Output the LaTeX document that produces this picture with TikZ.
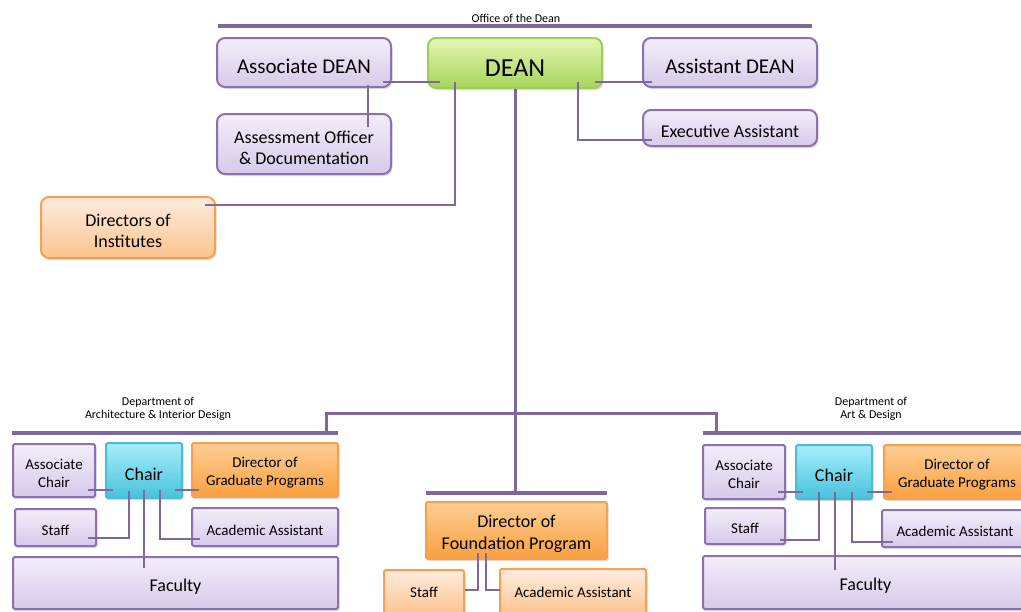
\documentclass[tikz,border=0pt]{standalone}
\usepackage{fontspec}
\setmainfont{Carlito}
\usetikzlibrary{shadows,calc}
\definecolor{lnc}{RGB}{127,104,155}
\definecolor{pbd}{RGB}{139,112,178}
\definecolor{ptop}{RGB}{243,238,250}
\definecolor{pbot}{RGB}{214,202,234}
\definecolor{gbd}{RGB}{160,204,92}
\definecolor{gtop}{RGB}{228,248,178}
\definecolor{gbot}{RGB}{166,212,90}
\definecolor{obd}{RGB}{247,160,80}
\definecolor{otop}{RGB}{253,206,150}
\definecolor{obot}{RGB}{249,160,62}
\definecolor{lotop}{RGB}{254,236,222}
\definecolor{lobot}{RGB}{251,196,142}
\definecolor{cbd}{RGB}{80,186,210}
\definecolor{ctop}{RGB}{166,238,252}
\definecolor{cbot}{RGB}{72,194,220}
\newcommand{\dn}[1]{\raisebox{-0.19em}[\height][\depth]{#1}}
\begin{document}
\begin{tikzpicture}[x=1pt,y=-1pt,
  box/.style={draw, line width=2pt, inner sep=0pt, align=center, text=black,
    drop shadow={opacity=0.25, shadow xshift=1.5pt, shadow yshift=-2pt}},
  topp/.style={box, draw=pbd, top color=ptop, bottom color=pbot, rounded corners=8pt},
  topg/.style={box, draw=gbd, top color=gtop, bottom color=gbot, rounded corners=8pt},
  topo/.style={box, draw=obd, top color=lotop, bottom color=lobot, rounded corners=8pt},
  dp/.style={box, draw=pbd, top color=ptop, bottom color=pbot, rounded corners=1.5pt},
  dc/.style={box, draw=cbd, top color=ctop, bottom color=cbot, rounded corners=1.5pt},
  dor/.style={box, draw=obd, top color=otop, bottom color=obot, rounded corners=1.5pt},
  dlo/.style={box, draw=obd, top color=lotop, bottom color=lobot, rounded corners=1.5pt},
  conn/.style={draw=lnc, line width=2.2pt},
  bar/.style={draw=lnc, line width=4pt},
  trunk/.style={draw=lnc, line width=3pt},
  lbl/.style={font=\fontsize{12}{13}\selectfont, align=center, inner sep=0pt}
]
\useasboundingbox (0,0) rectangle (1021,611);

% ---- Office of the Dean
\node[lbl] (office) at (516,18) {Office of the Dean};
\coordinate (obarL) at (218,26);
\coordinate (obarR) at (812,26);
\draw[bar] (obarL) -- (obarR);

\node[topp, minimum width=174pt, minimum height=49pt, font=\fontsize{21}{24}\selectfont] (ad) at (304,62.5) {\dn{Associate DEAN}};
\node[topg, minimum width=174pt, minimum height=50pt, font=\fontsize{26}{30}\selectfont] (dean) at (515,63) {\dn{DEAN}};
\node[topp, minimum width=174pt, minimum height=49pt, font=\fontsize{21}{24}\selectfont] (asd) at (730,62.5) {\dn{Assistant DEAN}};
\node[topp, minimum width=174pt, minimum height=60pt, font=\fontsize{18}{21}\selectfont] (ao) at (304,144) {\dn{Assessment Officer}\\\dn{\& Documentation}};
\node[topp, minimum width=174pt, minimum height=36pt, font=\fontsize{18}{21}\selectfont] (ea) at (730,128) {\dn{Executive Assistant}};
\node[topo, minimum width=174pt, minimum height=61pt, font=\fontsize{18}{21.5}\selectfont] (di) at (128,227.5) {\dn{Directors of}\\\dn{Institutes}};

% ---- Left department
\node[lbl] (ldept) at (158,408.5) {Department of\\Architecture \& Interior Design};
\coordinate (lbarL) at (12,433);
\coordinate (lbarR) at (338,433);
\coordinate (lbarT) at (326,433);
\node[dp, minimum width=82pt, minimum height=53pt, font=\fontsize{15}{18}\selectfont] (lac) at (54,470.5) {\dn{Associate}\\\dn{Chair}};
\node[dc, minimum width=76pt, minimum height=55pt, font=\fontsize{18}{21}\selectfont] (lch) at (144,470.5) {\dn{Chair}};
\node[dor, minimum width=146pt, minimum height=54pt, font=\fontsize{15}{18}\selectfont] (ldg) at (265,470) {\dn{Director of}\\\dn{Graduate Programs}};
\node[dp, minimum width=81pt, minimum height=37pt, font=\fontsize{15}{18}\selectfont] (lst) at (55.5,527.5) {\dn{Staff}};
\node[dp, minimum width=146pt, minimum height=38pt, font=\fontsize{15}{18}\selectfont] (laa) at (265,527) {\dn{Academic Assistant}};
\node[dp, minimum width=325pt, minimum height=52pt, font=\fontsize{18}{21}\selectfont] (lfa) at (175.5,583) {\dn{Faculty}};

% ---- Right department
\node[lbl] (rdept) at (871,408.5) {Department of\\Art \& Design};
\coordinate (rbarL) at (703,433);
\coordinate (rbarR) at (1024,433);
\coordinate (rbarT) at (716,433);
\node[dp, minimum width=82pt, minimum height=54pt, font=\fontsize{15}{18}\selectfont] (rac) at (744,472) {\dn{Associate}\\\dn{Chair}};
\node[dc, minimum width=76pt, minimum height=54pt, font=\fontsize{18}{21}\selectfont] (rch) at (834,472) {\dn{Chair}};
\node[dor, minimum width=146pt, minimum height=54pt, font=\fontsize{15}{18}\selectfont] (rdg) at (957,472) {\dn{Director of}\\\dn{Graduate Programs}};
\node[dp, minimum width=80pt, minimum height=36pt, font=\fontsize{15}{18}\selectfont] (rst) at (745,526) {\dn{Staff}};
\node[dp, minimum width=146pt, minimum height=37pt, font=\fontsize{15}{18}\selectfont] (raa) at (955,528.5) {\dn{Academic Assistant}};
\node[dp, minimum width=325pt, minimum height=53pt, font=\fontsize{18}{21}\selectfont] (rfa) at (865.5,582.5) {\dn{Faculty}};

% ---- Foundation
\coordinate (fbarL) at (426,493);
\coordinate (fbarR) at (607,493);
\coordinate (fbarT) at (515,493);
\node[dor, minimum width=181pt, minimum height=57pt, font=\fontsize{18}{21.5}\selectfont] (fd) at (516.5,530.5) {\dn{Director of}\\\dn{Foundation Program}};
\node[dlo, minimum width=80pt, minimum height=45pt, font=\fontsize{15}{18}\selectfont] (fst) at (424,592.5) {Staff};
\node[dlo, minimum width=146pt, minimum height=46pt, font=\fontsize{15}{18}\selectfont] (faa) at (573,592) {Academic Assistant};

% ---- bars and trunk
\draw[bar] (lbarL) -- (lbarR);
\draw[bar] (rbarL) -- (rbarR);
\draw[bar] (fbarL) -- (fbarR);
\coordinate (hub) at (515,413);
\draw[trunk] (dean.south) -- (fbarT);
\draw[trunk] (lbarT) |- (hub) -| (rbarT);

% ---- top connectors
\draw[conn] ([shift={(-9,19.5)}]ad.east) -- ([shift={(13,19)}]dean.west);
\draw[conn] ([shift={(64,-3)}]ad.south) -- ([shift={(64,14)}]ao.north);
\draw[conn] ([shift={(-8,19)}]dean.east) -- ([shift={(10,19.5)}]asd.west);
\draw[conn] ([shift={(-25,19)}]dean.east) |- ([shift={(10,12)}]ea.west);
\draw[conn] ([shift={(28,19)}]dean.west) |- ([shift={(-11,-22.5)}]di.east);

% ---- left department connectors
\draw[conn] ([shift={(-8,19.5)}]lac.east) -- ([shift={(8,19.5)}]lch.west);
\draw[conn] ([shift={(-8,19.5)}]lch.east) -- ([shift={(8,20)}]ldg.west);
\draw[conn] ([shift={(-15,-8)}]lch.south) |- ([shift={(-9,10.5)}]lst.east);
\draw[conn] ([shift={(0,-9)}]lch.south) -- ([shift={(-31.5,12)}]lfa.north);
\draw[conn] ([shift={(16,-9)}]lch.south) |- ([shift={(9,12)}]laa.west);

% ---- right department connectors
\draw[conn] ([shift={(-8,20)}]rac.east) -- ([shift={(8,20)}]rch.west);
\draw[conn] ([shift={(-6,20)}]rch.east) -- ([shift={(9,20)}]rdg.west);
\draw[conn] ([shift={(-15,-8)}]rch.south) |- ([shift={(-6,14)}]rst.east);
\draw[conn] ([shift={(1,-8)}]rch.south) -- ([shift={(-30.5,15)}]rfa.north);
\draw[conn] ([shift={(18,-8)}]rch.south) |- ([shift={(12,13.5)}]raa.west);

% ---- foundation connectors
\draw[conn] ([shift={(-38.5,-7)}]fd.south) |- ([shift={(0,-2.5)}]fst.east);
\draw[conn] ([shift={(-30.5,-7)}]fd.south) |- ([shift={(1,-2)}]faa.west);
\end{tikzpicture}
\end{document}
